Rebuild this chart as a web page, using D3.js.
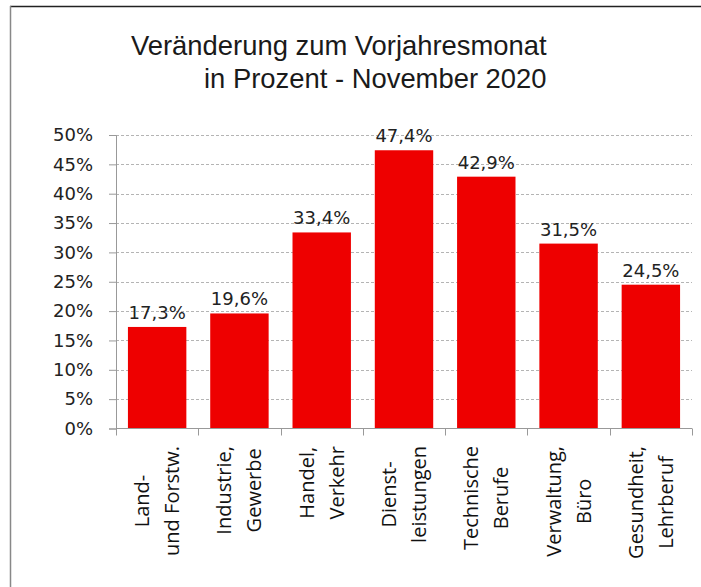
<!DOCTYPE html>
<html>
<head>
<meta charset="utf-8">
<script src="https://cdn.jsdelivr.net/npm/d3@7"></script>
<style>
  body { margin: 0; background: #fff; }
  svg { display: block; }
</style>
</head>
<body>
<div class="chart"></div>
<script>
// chart values
var categories = ["Land-\nund Forstw.", "Industrie,\nGewerbe", "Handel,\nVerkehr", "Dienst-\nleistungen",
                  "Technische\nBerufe", "Verwaltung,\nBüro", "Gesundheit,\nLehrberuf"];
var values = [17.3, 19.6, 33.4, 47.4, 42.9, 31.5, 24.5];
var yTicks = [0, 5, 10, 15, 20, 25, 30, 35, 40, 45, 50];
var titleLines = ["Veränderung zum Vorjahresmonat", "in Prozent - November 2020"];

var svg_width = 701;
var svg_height = 587;

var svg = d3.select(".chart").append("svg")
  .attr("width", svg_width)
  .attr("height", svg_height);

// frame (right and bottom edges fall outside the picture)
svg.append("line").attr("x1", 10).attr("x2", svg_width).attr("y1", 6.5).attr("y2", 6.5)
  .attr("stroke", "#222").attr("stroke-width", 1.5);
svg.append("line").attr("x1", 10.5).attr("x2", 10.5).attr("y1", 6).attr("y2", svg_height)
  .attr("stroke", "#888").attr("stroke-width", 1.5);

// title
svg.append("text").attr("x", 131).attr("y", 55).text(titleLines[0])
  .attr("font-family", "Liberation Sans, Arial, sans-serif").attr("font-size", 27.4).attr("fill", "#1a1a1a");
svg.append("text").attr("x", 204).attr("y", 88).text(titleLines[1])
  .attr("font-family", "Liberation Sans, Arial, sans-serif").attr("font-size", 27.4).attr("fill", "#1a1a1a");

var plotLeft = 116, plotRight = 692, plotTop = 135, plotBottom = 428.5;

var x = d3.scaleBand()
  .domain(categories)
  .range([plotLeft, plotRight])
  .paddingInner(0.29)
  .paddingOuter(0.145);

var y = d3.scaleLinear()
  .domain([0, 50])
  .range([plotBottom, plotTop]);

// grid lines
svg.selectAll(".grid")
  .data(yTicks.filter(function(d) { return d > 0; }))
  .enter()
  .append("line")
  .attr("class", "grid")
  .attr("x1", plotLeft).attr("x2", plotRight)
  .attr("y1", function(d) { return Math.round(y(d)) + 0.5; })
  .attr("y2", function(d) { return Math.round(y(d)) + 0.5; })
  .attr("stroke", "#b4b4b4")
  .attr("stroke-width", 1)
  .attr("stroke-dasharray", "3,2");

// bars
svg.selectAll(".bar")
  .data(values)
  .enter()
  .append("rect")
  .attr("class", "bar")
  .attr("x", function(d, i) { return x(categories[i]); })
  .attr("width", x.bandwidth())
  .attr("y", function(d) { return y(d); })
  .attr("height", function(d) { return plotBottom - y(d); })
  .attr("fill", "#ee0000");

// value labels
svg.selectAll(".val")
  .data(values)
  .enter()
  .append("text")
  .attr("class", "val")
  .attr("x", function(d, i) { return x(categories[i]) + x.bandwidth() / 2; })
  .attr("y", function(d) { return y(d) - 8; })
  .attr("text-anchor", "middle")
  .attr("font-family", "DejaVu Sans, sans-serif")
  .attr("font-size", 18)
  .attr("fill", "#222")
  .text(function(d) { return d.toFixed(1).replace(".", ",") + "%"; });

// y axis
var yAxis = svg.append("g")
  .attr("transform", "translate(" + plotLeft + ",0)")
  .call(d3.axisLeft(y).tickValues(yTicks).tickSize(7).tickPadding(16)
    .tickFormat(function(d) { return d + "%"; }));
yAxis.selectAll("path, line").attr("stroke", "#999");
yAxis.selectAll("text")
  .attr("font-family", "DejaVu Sans, sans-serif")
  .attr("font-size", 18)
  .attr("fill", "#222");

// x axis: line plus ticks between the categories
var boundaries = categories.map(function(c) { return x(c) - x.step() * x.paddingInner() / 2; });
boundaries[0] = plotLeft;
boundaries.push(plotRight);

svg.append("line")
  .attr("x1", plotLeft).attr("x2", plotRight)
  .attr("y1", plotBottom).attr("y2", plotBottom)
  .attr("stroke", "#999").attr("stroke-width", 1);

svg.selectAll(".xtick")
  .data(boundaries)
  .enter()
  .append("line")
  .attr("class", "xtick")
  .attr("x1", function(d) { return Math.round(d) + 0.5; })
  .attr("x2", function(d) { return Math.round(d) + 0.5; })
  .attr("y1", plotBottom).attr("y2", plotBottom + 7)
  .attr("stroke", "#999");

// rotated category labels, two lines each, lines centred on the longest one
var labelTop = 446;
var lineGap = 30;
categories.forEach(function(c) {
  var lines = c.split("\n");
  var cx = x(c) + x.bandwidth() / 2;
  var g = svg.append("g");
  var texts = lines.map(function(l) {
    return g.append("text")
      .attr("font-family", "Open Sans, sans-serif")
      .attr("font-size", 20)
      .attr("fill", "#111")
      .attr("text-anchor", "middle")
      .text(l);
  });
  var maxLen = d3.max(texts, function(t) { return t.node().getComputedTextLength(); });
  var midY = labelTop + maxLen / 2;
  texts.forEach(function(t, k) {
    var bx = cx + (k - (lines.length - 1) / 2) * lineGap + 7;
    t.attr("transform", "translate(" + bx + "," + midY + ") rotate(-90)");
  });
});
</script>
</body>
</html>
